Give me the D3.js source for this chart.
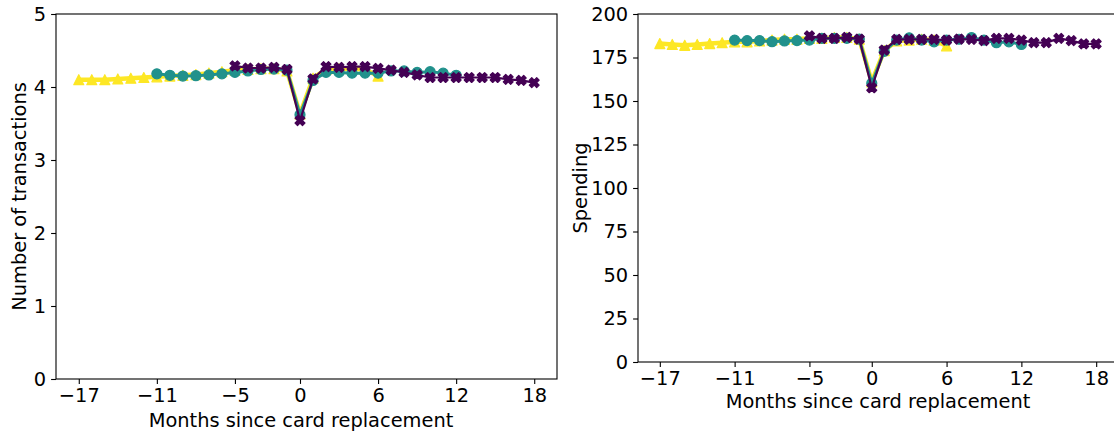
<!DOCTYPE html>
<html>
<head>
<meta charset="utf-8">
<script src="https://cdn.jsdelivr.net/npm/d3@7"></script>
<style>
  html, body { margin: 0; padding: 0; background: #fff; }
  svg text { font-family: "DejaVu Sans", sans-serif; }
</style>
</head>
<body>
<svg id="chart" width="1114" height="436"></svg>
<script>
// ---------- data ----------
const monthsA = d3.range(-17, 7);   // yellow triangles
const monthsB = d3.range(-11, 13);  // teal circles
const monthsC = d3.range(-5, 19);   // purple crosses

const xTicks = [-17, -11, -5, 0, 6, 12, 18];
const txTicks = [0, 1, 2, 3, 4, 5];
const spTicks = [0, 25, 50, 75, 100, 125, 150, 175, 200];

const txA = [4.10, 4.10, 4.10, 4.11, 4.12, 4.13, 4.14, 4.15, 4.16, 4.17, 4.19, 4.21,
             4.23, 4.24, 4.25, 4.25, 4.22, 3.63, 4.12, 4.24, 4.25, 4.25, 4.24, 4.15];
const txB = [4.18, 4.16, 4.15, 4.155, 4.165, 4.18, 4.20, 4.22, 4.24, 4.245, 4.23, 3.62,
             4.09, 4.20, 4.20, 4.19, 4.19, 4.19, 4.22, 4.22, 4.20, 4.21, 4.19, 4.16];
const txC = [4.29, 4.26, 4.26, 4.27, 4.24, 3.54, 4.11, 4.28, 4.27, 4.28, 4.28, 4.255,
             4.23, 4.20, 4.165, 4.13, 4.13, 4.13, 4.13, 4.13, 4.13, 4.105, 4.09, 4.06];

const spA = [183, 182.5, 182, 182.5, 183, 183.5, 184, 184, 184.5, 185, 185.5, 185.5,
             186, 186, 186.5, 186.5, 185.5, 161, 179, 184.5, 185, 185.5, 185, 181.7];
const spB = [185, 184.7, 184.7, 184.1, 184.5, 184.7, 185, 186, 186, 186, 185.6, 160.2,
             178.5, 185, 186.3, 185, 184, 185, 185.5, 186.5, 185, 183.5, 184, 182.5];
const spC = [187.4, 186, 186, 186.6, 185.6, 157.6, 179.3, 185.4, 185.4, 185.4, 185.4, 185,
             185.6, 185.4, 184.7, 186, 186, 185, 183.5, 183.5, 186, 184.7, 182.8, 182.8];

const colors = ["#fde725", "#21918c", "#440154"];
const FS = 19.4;

// ---------- marker paths ----------
function trianglePath(ms) {
  const h = ms / 2;
  return `M0,${-h}L${-h},${h}L${h},${h}Z`;
}
function xPath(ms) {
  const pts = [[-1,-3],[1,-3],[1,-1],[3,-1],[3,1],[1,1],[1,3],[-1,3],[-1,1],[-3,1],[-3,-1],[-1,-1]];
  const c = Math.SQRT1_2;
  return "M" + pts.map(([px, py]) => {
    const x = px / 6 * ms, y = py / 6 * ms;
    return [(x - y) * c, (x + y) * c].map(v => v.toFixed(2)).join(",");
  }).join("L") + "Z";
}

const svg = d3.select("#chart");

function panel(opt) {
  const { left, top, width, height, yDomain, yTicks, ylabel, ylabelX, xlabelX, xlabelY, series } = opt;
  const g = svg.append("g");
  const x = d3.scaleLinear().domain([-18.75, 19.75]).range([left, left + width]);
  const y = d3.scaleLinear().domain(yDomain).range([top + height, top]);

  // series
  series.forEach((s, i) => {
    const pts = s.months.map((m, j) => [m, s.values[j]]);
    const line = d3.line().x(d => x(d[0])).y(d => y(d[1]));
    g.append("path").attr("d", line(pts)).attr("fill", "none")
      .attr("stroke", colors[i]).attr("stroke-width", s.lw).attr("stroke-linejoin", "round");
    const mk = g.append("g");
    pts.forEach(d => {
      if (s.marker === "circle") {
        mk.append("circle").attr("cx", x(d[0])).attr("cy", y(d[1])).attr("r", 5)
          .attr("fill", colors[i]).attr("stroke", colors[i]).attr("stroke-width", 1.2);
      } else {
        mk.append("path").attr("d", s.marker === "tri" ? trianglePath(10) : xPath(10.5))
          .attr("transform", `translate(${x(d[0])},${y(d[1])})`)
          .attr("fill", colors[i]).attr("stroke", colors[i]).attr("stroke-width", 1.2)
          .attr("stroke-linejoin", "round");
      }
    });
  });

  // spines
  const sp = g.append("g").attr("stroke", "#000").attr("stroke-width", 1.1).attr("fill", "none");
  sp.append("rect").attr("x", left).attr("y", top).attr("width", width).attr("height", height);

  // axes
  const fmt = v => (v < 0 ? "\u2212" + Math.abs(v) : String(v));
  const xa = g.append("g").attr("transform", `translate(0,${top + height})`)
    .call(d3.axisBottom(x).tickValues(xTicks).tickFormat(fmt).tickSize(4.9).tickPadding(4.5).tickSizeOuter(0));
  const ya = g.append("g").attr("transform", `translate(${left},0)`)
    .call(d3.axisLeft(y).tickValues(yTicks).tickFormat(fmt).tickSize(4.9).tickPadding(4.9).tickSizeOuter(0));
  [xa, ya].forEach(a => {
    a.select(".domain").remove();
    a.selectAll("line").attr("stroke", "#000").attr("stroke-width", 1.1);
    a.selectAll("text").attr("fill", "#000").style("font-size", FS + "px")
      .style("font-family", "'DejaVu Sans', sans-serif");
  });

  g.append("text")
    .attr("x", xlabelX).attr("y", top + height + xlabelY)
    .attr("text-anchor", "middle").style("font-size", FS + "px").attr("fill", "#000")
    .text("Months since card replacement");
  g.append("text")
    .attr("transform", `translate(${ylabelX},${top + height / 2}) rotate(-90)`)
    .attr("text-anchor", "middle").style("font-size", FS + "px").attr("fill", "#000")
    .text(ylabel);
}

panel({
  left: 56, top: 14, width: 501, height: 365, xlabelX: 301, xlabelY: 48,
  yDomain: [0, 5], yTicks: txTicks, ylabel: "Number of transactions", ylabelX: 26,
  series: [
    { months: monthsA, values: txA, marker: "tri", lw: 4.5 },
    { months: monthsB, values: txB, marker: "circle", lw: 3 },
    { months: monthsC, values: txC, marker: "x", lw: 2.2 }
  ]
});

panel({
  left: 638, top: 14, width: 480, height: 348, xlabelX: 878, xlabelY: 46,
  yDomain: [0, 200], yTicks: spTicks, ylabel: "Spending", ylabelX: 587,
  series: [
    { months: monthsA, values: spA, marker: "tri", lw: 4.5 },
    { months: monthsB, values: spB, marker: "circle", lw: 3 },
    { months: monthsC, values: spC, marker: "x", lw: 2.2 }
  ]
});
</script>
</body>
</html>
